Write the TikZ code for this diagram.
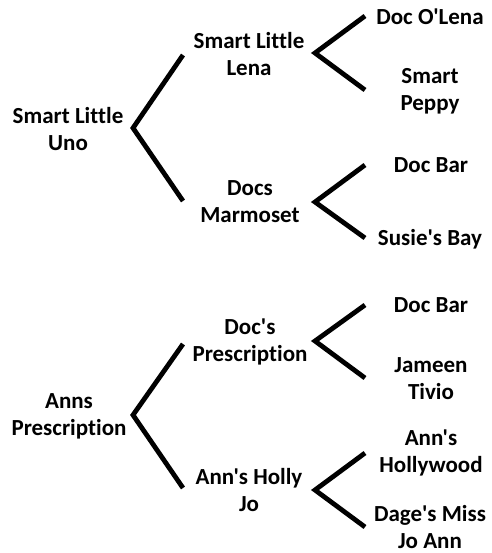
\documentclass[tikz,border=0pt]{standalone}
\usepackage{fontspec}
\newfontfamily\horsefont{Carlito}[Ligatures=NoCommon]
\begin{document}
\begin{tikzpicture}[x=1pt,y=-1pt,
  horse/.style={font=\horsefont\bfseries\fontsize{23}{27}\selectfont, align=center, inner sep=0pt},
  brk/.style={line width=4.8pt, line join=miter}]
\useasboundingbox (0,0) rectangle (491,553);
% ---- first pedigree
\node[horse] (uno)   at (68,129)  {Smart Little\\Uno};
\node[horse] (lena)  at (249,54)  {Smart Little\\Lena};
\node[horse] (marm)  at (250,202) {Docs\\Marmoset};
\node[horse] (olena) at (430,17)  {Doc O'Lena};
\node[horse] (peppy) at (430,91)  {Smart\\Peppy};
\node[horse] (dbar1) at (431,165) {Doc Bar};
\node[horse] (susie) at (430,239) {Susie's Bay};
% ---- second pedigree
\node[horse] (anns)  at (69,416)  {Anns\\Prescription};
\node[horse] (docs)  at (250,342) {Doc's\\Prescription};
\node[horse] (holly) at (249,490) {Ann's Holly\\Jo};
\node[horse] (dbar2) at (431,305) {Doc Bar};
\node[horse] (jam)   at (431,379) {Jameen\\Tivio};
\node[horse] (hwood) at (431,453) {Ann's\\Hollywood};
\node[horse] (dage)  at (430,527) {Dage's Miss\\Jo Ann};
% ---- bracket coordinates
\coordinate (v1)  at (133,128);
\coordinate (v1a) at (183,55);
\coordinate (v1b) at (183,201);
\coordinate (v2)  at (315,53);
\coordinate (v2a) at (365,16);
\coordinate (v2b) at (365,90);
\coordinate (v3)  at (315,202);
\coordinate (v3a) at (365,165);
\coordinate (v3b) at (365,238);
\coordinate (w1)  at (133,415);
\coordinate (w1a) at (183,344);
\coordinate (w1b) at (183,488);
\coordinate (w2)  at (315,341);
\coordinate (w2a) at (365,305);
\coordinate (w2b) at (365,378);
\coordinate (w3)  at (315,490);
\coordinate (w3a) at (365,453);
\coordinate (w3b) at (365,527);
\draw[brk] (v1a) -- (v1) -- (v1b);
\draw[brk] (v2a) -- (v2) -- (v2b);
\draw[brk] (v3a) -- (v3) -- (v3b);
\draw[brk] (w1a) -- (w1) -- (w1b);
\draw[brk] (w2a) -- (w2) -- (w2b);
\draw[brk] (w3a) -- (w3) -- (w3b);
\end{tikzpicture}
\end{document}
